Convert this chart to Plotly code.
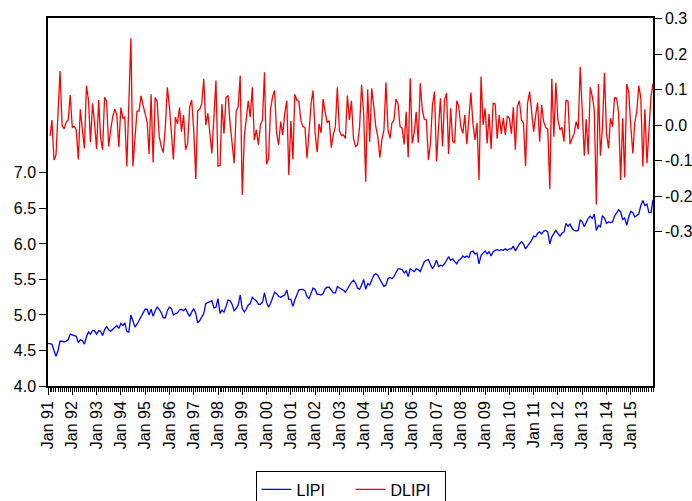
import pandas as pd
import plotly.graph_objects as go

# Monthly dates Jan 1991 - Dec 2015
dates = pd.date_range("1991-01-01", periods=300, freq="MS")

LIPI = [
    4.60, 4.59, 4.59, 4.50, 4.42, 4.50, 4.63, 4.63, 4.62, 4.63,
    4.65, 4.73, 4.72, 4.71, 4.70, 4.61, 4.65, 4.64, 4.59, 4.69,
    4.76, 4.73, 4.78, 4.78, 4.73, 4.78, 4.77, 4.71, 4.79, 4.84,
    4.79, 4.77, 4.80, 4.83, 4.85, 4.81, 4.88, 4.85, 4.89, 4.77,
    4.76, 5.00, 4.90, 4.83, 4.87, 4.92, 4.97, 5.04, 5.08, 5.08,
    5.00, 5.08, 4.98, 5.06, 5.11, 5.08, 5.03, 4.96, 4.96, 5.06,
    5.11, 5.09, 5.00, 5.02, 5.03, 5.07, 5.08, 5.06, 5.09, 5.03,
    4.98, 5.04, 5.09, 5.02, 4.89, 4.92, 4.97, 5.02, 5.16, 5.17,
    5.18, 5.20, 5.10, 5.11, 5.23,
    5.02, 5.07, 5.04, 5.12, 5.21, 5.20, 5.15, 5.06, 5.09, 5.14,
    5.28, 5.09, 5.04, 5.08, 5.14, 5.16, 5.25, 5.22, 5.20, 5.15,
    5.15, 5.18, 5.31, 5.18, 5.11, 5.16, 5.24, 5.32, 5.30, 5.26,
    5.25, 5.26, 5.28, 5.35, 5.22, 5.22, 5.12, 5.21, 5.28, 5.35,
    5.36, 5.36, 5.34, 5.26, 5.23, 5.30, 5.38, 5.36, 5.29, 5.29,
    5.28, 5.30, 5.37, 5.39, 5.39, 5.35, 5.31, 5.31, 5.40, 5.38,
    5.37, 5.35, 5.32, 5.37, 5.40, 5.46, 5.49, 5.45, 5.38, 5.36,
    5.42, 5.50, 5.36, 5.44, 5.42, 5.49, 5.56, 5.58, 5.56, 5.50,
    5.44, 5.40, 5.42, 5.51, 5.53, 5.51, 5.54, 5.59, 5.65, 5.65,
    5.64, 5.59, 5.62, 5.54, 5.65, 5.63, 5.61, 5.65, 5.64, 5.61,
    5.69, 5.75, 5.77, 5.78, 5.71, 5.65, 5.70, 5.77, 5.68, 5.70,
    5.69, 5.72, 5.77, 5.82, 5.77, 5.79, 5.75, 5.72, 5.77,
    5.79, 5.83, 5.81, 5.83, 5.81, 5.89, 5.90, 5.86, 5.87, 5.72,
    5.84, 5.87, 5.90, 5.86, 5.89, 5.83, 5.89, 5.91, 5.92, 5.91,
    5.92, 5.91, 5.93, 5.91, 5.93, 5.93, 5.97, 5.90, 5.96, 6.00,
    6.03, 6.00, 5.93, 5.98, 6.01, 6.05, 6.11, 6.10, 6.15, 6.17,
    6.14, 6.18, 6.19, 6.17, 6.00, 6.10, 6.14, 6.19, 6.15, 6.11,
    6.15, 6.17, 6.29, 6.25, 6.28, 6.22, 6.19, 6.18, 6.19, 6.34,
    6.31, 6.24, 6.30, 6.36, 6.39, 6.36, 6.42, 6.19, 6.26, 6.24,
    6.40, 6.36, 6.29, 6.31, 6.30, 6.31, 6.39, 6.44, 6.48, 6.45,
    6.34, 6.37, 6.26, 6.38, 6.46, 6.44, 6.38, 6.40, 6.42, 6.54,
    6.61, 6.54, 6.56, 6.44, 6.44, 6.62,
]

DLIPI = [
    None,
    -0.030, 0.015, -0.098, -0.084, 0.034, 0.153, -0.001, -0.010, 0.008, 0.015,
    0.085, -0.006, -0.003, -0.013, -0.096, 0.045, -0.013, -0.065, 0.111, 0.071,
    -0.048, 0.062, 0.006, -0.067, 0.071, -0.032, -0.069, 0.079, 0.067, -0.060,
    -0.013, 0.024, 0.045, 0.029, -0.062, 0.050, 0.020, 0.023, -0.116, 0.053,
    0.245, -0.116, -0.032, 0.040, 0.040, 0.083, 0.057, 0.034, 0.008, -0.081,
    0.087, -0.105, 0.078, 0.067, -0.032, -0.060, -0.077, -0.004, 0.107, 0.053,
    -0.013, -0.096, 0.023, 0.004, 0.050, -0.018, 0.029, -0.069, -0.051, 0.051,
    0.071, -0.013, -0.151, 0.040, 0.045, 0.060, 0.130, 0.001, 0.034, -0.023,
    -0.079, 0.024, 0.126, -0.115, -0.113, 0.060, -0.024, 0.078, 0.084, 0.006,
    -0.051, -0.107, 0.038, 0.053, 0.140, -0.196, -0.032, 0.020, 0.069, 0.023,
    0.107, -0.041, -0.013, -0.055, 0.001, 0.015, 0.149, -0.110, -0.093, 0.045,
    0.081, 0.098, -0.023, -0.055, 0.010, -0.027, 0.034, 0.069, -0.140, 0.012,
    -0.096, 0.087, 0.071, 0.067, 0.013, -0.004, -0.006, -0.093, -0.013, 0.060,
    0.098, -0.023, -0.076, 0.004, -0.021, 0.074, 0.038, 0.008, 0.013, -0.063,
    -0.027, -0.004, 0.107, -0.016, -0.029, -0.027, -0.037, 0.084, 0.015, 0.069,
    -0.037, -0.060, -0.055, -0.004, 0.114, 0.034, -0.159, 0.101, -0.046, 0.104,
    0.053, -0.004, -0.032, -0.091, -0.041, -0.013, 0.120, -0.013, -0.037, 0.006,
    0.015, 0.074, 0.060, -0.004, -0.008, -0.054, 0.038, -0.090, 0.132, -0.051,
    -0.018, 0.038, -0.049, 0.118, 0.043, 0.017, 0.015, -0.098, -0.051, 0.057,
    0.095, -0.102, -0.004, 0.076, -0.060, 0.071, 0.090, -0.081, 0.048, -0.046,
    -0.049, 0.069, 0.054, -0.004, -0.023, 0.029, -0.053, 0.020, 0.092, 0.006,
    -0.041, 0.006, -0.154, 0.137, 0.001, 0.048, -0.051, 0.032, -0.067, 0.062,
    0.060, -0.038, 0.029, -0.024, 0.020, -0.027, 0.026, 0.020, -0.024, 0.051,
    -0.069, 0.053, 0.069, 0.015, 0.006, -0.115, 0.062, 0.095, 0.038, -0.018,
    0.029, 0.064, -0.046, 0.057, 0.010, -0.006, -0.011, -0.180, 0.131, -0.032,
    0.120, 0.015, -0.013, -0.006, -0.046, 0.071, 0.067, -0.053, -0.037, -0.023,
    0.010, -0.011, 0.165, 0.034, -0.086, 0.017, -0.082, 0.107, 0.081, 0.043,
    -0.223, 0.116, -0.086, -0.004, 0.148, -0.024, -0.065, 0.020, -0.004, 0.078,
    0.076, 0.036, -0.154, 0.020, -0.147, 0.116, 0.095, -0.004, -0.079, 0.006,
    0.038, 0.112, 0.076, -0.116, 0.045, -0.107, -0.023, 0.081, 0.118,
]

assert len(LIPI) == 300, len(LIPI)
assert len(DLIPI) == 300, len(DLIPI)

x_tick_years = list(range(1991, 2016))
x_tick_labels = ["Jan %02d" % (y % 100) for y in x_tick_years]
left_tick_vals = [4.0, 4.5, 5.0, 5.5, 6.0, 6.5, 7.0]
left_tick_text = ["4.0", "4.5", "5.0", "5.5", "6.0", "6.5", "7.0"]
right_tick_vals = [-0.3, -0.2, -0.1, 0.0, 0.1, 0.2, 0.3]
right_tick_text = ["-0.3", "-0.2", "-0.1", "0.0", "0.1", "0.2", "0.3"]

FONT = "Liberation Sans, Arial, sans-serif"
FS = 16

fig = go.Figure()
fig.add_trace(go.Scatter(x=dates, y=LIPI, name="LIPI", mode="lines",
                         line=dict(color="#0000FF", width=1.3), yaxis="y"))
fig.add_trace(go.Scatter(x=dates, y=DLIPI, name="DLIPI", mode="lines",
                         line=dict(color="#FF0000", width=1.3), yaxis="y2"))

fig.update_layout(
    width=692, height=501,
    margin=dict(l=48, r=39, t=18, b=115, autoexpand=False),
    paper_bgcolor="white", plot_bgcolor="white",
    font=dict(family=FONT, size=FS, color="black"),
    showlegend=True,
    legend=dict(orientation="h", x=0.343, y=-0.232, xanchor="left", yanchor="top",
                bordercolor="black", borderwidth=1, font=dict(size=FS, family=FONT),
                bgcolor="white", entrywidth=49, entrywidthmode="pixels",
                tracegroupgap=0),
    xaxis=dict(
        range=[dates[0], dates[-1]],
        automargin=False,
        tickmode="array",
        tickvals=[pd.Timestamp(year=y, month=1, day=1) for y in x_tick_years],
        ticktext=x_tick_labels,
        tickangle=-90,
        ticks="outside", ticklen=7, tickcolor="black", tickwidth=1,
        minor=dict(ticks="outside", ticklen=4, tickcolor="black", tickwidth=1,
                   dtick="M1", tick0="1991-01-01", showgrid=False),
        showline=True, linecolor="black", linewidth=1.5, mirror=True,
        showgrid=False, zeroline=False,
        tickfont=dict(size=FS, family=FONT),
    ),
    yaxis=dict(
        range=[4.0, 9.18],
        automargin=False,
        tickmode="array", tickvals=left_tick_vals, ticktext=left_tick_text,
        ticks="outside", ticklen=7, tickcolor="black",
        showline=True, linecolor="black", linewidth=1.5,
        showgrid=False, zeroline=False,
        tickfont=dict(size=FS, family=FONT),
    ),
    yaxis2=dict(
        range=[-0.734, 0.302],
        automargin=False,
        overlaying="y", side="right",
        tickmode="array", tickvals=right_tick_vals, ticktext=right_tick_text,
        ticks="outside", ticklen=7, tickcolor="black",
        showline=True, linecolor="black", linewidth=1.5,
        showgrid=False, zeroline=False,
        tickfont=dict(size=FS, family=FONT),
    ),
)

fig.write_html("out.html")
